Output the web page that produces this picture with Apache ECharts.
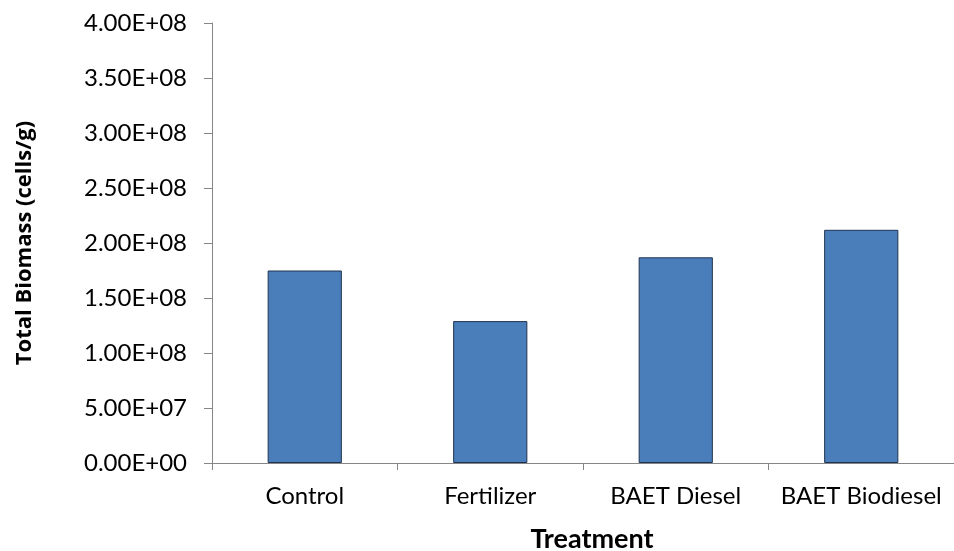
<!DOCTYPE html>
<html>
<head>
<meta charset="utf-8">
<script src="https://cdn.jsdelivr.net/npm/echarts@6/dist/echarts.min.js"></script>
<style>html,body{margin:0;padding:0;background:#fff}#c{width:954px;height:551px}</style>
</head>
<body>
<div id="c"></div>
<script>
var categories = ['Control', 'Fertilizer', 'BAET Diesel', 'BAET Biodiesel'];
var biomass = [1.75e8, 1.29e8, 1.87e8, 2.12e8];
var yMin = 0, yMax = 4e8, yStep = 5e7;

function sci(v) {
  var s = v.toExponential(2).toUpperCase();
  var m = s.match(/^(.*)E([+-])(\d+)$/);
  var e = m[3].length < 2 ? '0' + m[3] : m[3];
  return m[1] + 'E' + m[2] + e;
}

var chart = echarts.init(document.getElementById('c'), null, {renderer: 'canvas'});
var axisGray = '#868686';
chart.setOption({
  animation: false,
  backgroundColor: '#ffffff',
  grid: {left: 212, right: 0, top: 23, bottom: 88, outerBoundsMode: 'none', containLabel: false},
  xAxis: {
    type: 'category',
    data: categories,
    name: 'Treatment',
    nameLocation: 'middle',
    nameGap: 63,
    nameTextStyle: {fontFamily: 'Lato', fontWeight: 'bold', fontSize: 27, color: '#000', padding: [0, 0, 0, 18]},
    axisLine: {lineStyle: {color: axisGray, width: 1}},
    axisTick: {show: true, interval: 0, length: 7, lineStyle: {color: axisGray}},
    axisLabel: {interval: 0, hideOverlap: false, margin: 21, fontFamily: 'Lato', fontSize: 24, color: '#000'}
  },
  yAxis: {
    type: 'value',
    min: yMin, max: yMax, interval: yStep,
    name: 'Total Biomass (cells/g)',
    nameLocation: 'middle',
    nameGap: 176,
    nameTextStyle: {fontFamily: 'Open Sans', fontWeight: 'bold', fontSize: 22, color: '#000'},
    axisLine: {show: true, lineStyle: {color: axisGray, width: 1}},
    axisTick: {show: true, length: 8, lineStyle: {color: axisGray}},
    splitLine: {show: false},
    axisLabel: {margin: 25, fontFamily: 'Lato', fontSize: 24, color: '#000', formatter: sci}
  },
  series: [{
    type: 'bar',
    data: biomass,
    barWidth: '40%',
    itemStyle: {color: '#4A7EBB', borderColor: '#1F3350', borderWidth: 1}
  }]
});
</script>
</body>
</html>
